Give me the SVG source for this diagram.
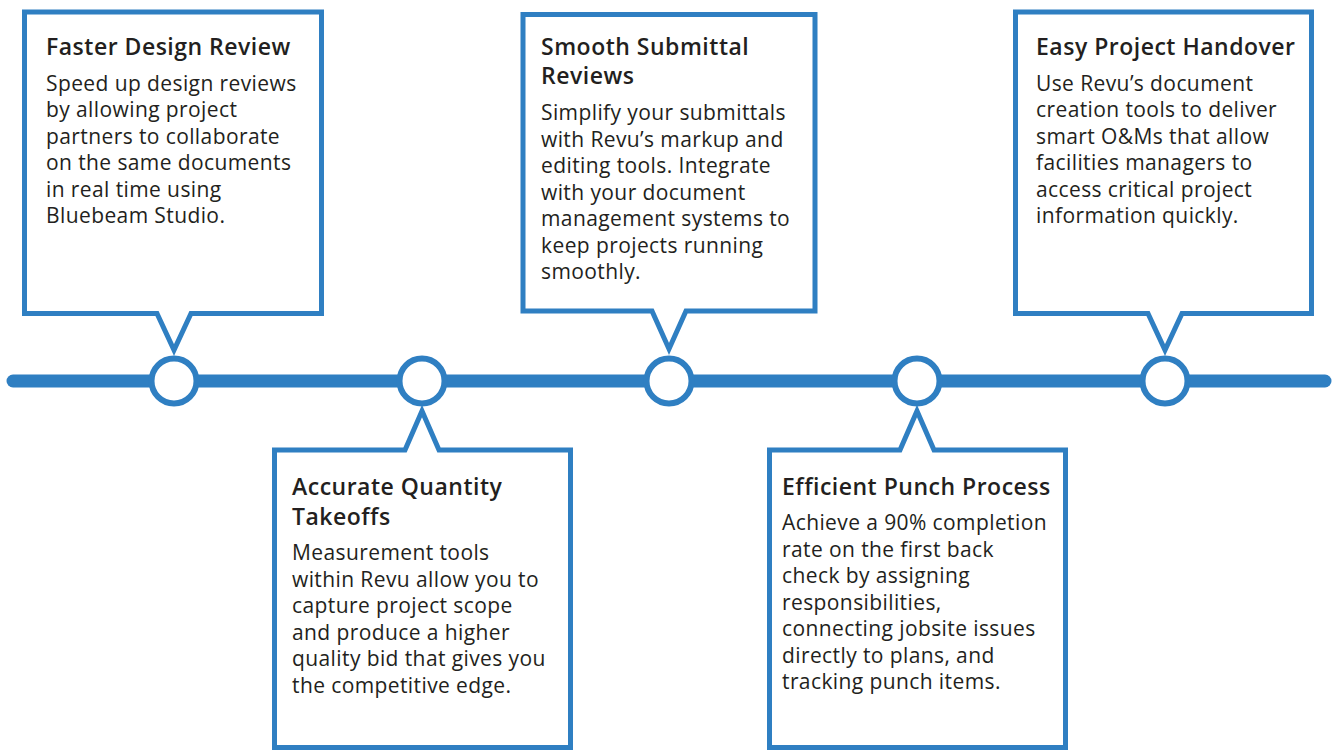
<svg xmlns="http://www.w3.org/2000/svg" width="1332" height="751" viewBox="0 0 1332 751">
<style>
.box{fill:#fff;stroke:#2f7fc2;stroke-width:5;stroke-miterlimit:10}
.node circle{fill:#fff;stroke:#2f7fc2;stroke-width:6}
.t{font-family:"Open Sans","Liberation Sans",sans-serif;font-size:23px;font-weight:600;letter-spacing:0.5px;fill:#231f20}
.b{font-family:"Open Sans","Liberation Sans",sans-serif;font-size:21px;letter-spacing:0.4px;fill:#231f20}
</style>
<rect width="1332" height="751" fill="#fff"/>
<g id="connectors">
<line x1="13" y1="381" x2="1325" y2="381" stroke="#2f7fc2" stroke-width="13" stroke-linecap="round"/>
</g>
<g id="n1" class="node">
<path class="box" d="M24.5,12 H321.5 V313.5 H191 L174,350 L157,313.5 H24.5 Z"/>
<circle cx="174" cy="381" r="22.5"/>
<text class="t" x="46" y="55">Faster Design Review</text>
<text class="b"><tspan x="46" y="90.5">Speed up design reviews</tspan><tspan x="46" y="117">by allowing project</tspan><tspan x="46" y="143.5">partners to collaborate</tspan><tspan x="46" y="170">on the same documents</tspan><tspan x="46" y="196.5">in real time using</tspan><tspan x="46" y="223">Bluebeam Studio.</tspan></text>
</g>
<g id="n2" class="node">
<path class="box" d="M274.5,450 H405 L422,411 L439,450 H570.5 V747.5 H274.5 Z"/>
<circle cx="422" cy="381" r="22.5"/>
<text class="t"><tspan x="292" y="495">Accurate Quantity</tspan><tspan x="292" y="525">Takeoffs</tspan></text>
<text class="b"><tspan x="292" y="560">Measurement tools</tspan><tspan x="292" y="586.5">within Revu allow you to</tspan><tspan x="292" y="613">capture project scope</tspan><tspan x="292" y="639.5">and produce a higher</tspan><tspan x="292" y="666">quality bid that gives you</tspan><tspan x="292" y="692.5">the competitive edge.</tspan></text>
</g>
<g id="n3" class="node">
<path class="box" d="M523,14.5 H815 V311 H686 L669,349 L652,311 H523 Z"/>
<circle cx="669" cy="381" r="22.5"/>
<text class="t"><tspan x="541" y="55">Smooth Submittal</tspan><tspan x="541" y="84">Reviews</tspan></text>
<text class="b"><tspan x="541" y="120">Simplify your submittals</tspan><tspan x="541" y="146.5">with Revu’s markup and</tspan><tspan x="541" y="173">editing tools. Integrate</tspan><tspan x="541" y="199.5">with your document</tspan><tspan x="541" y="226">management systems to</tspan><tspan x="541" y="252.5">keep projects running</tspan><tspan x="541" y="279">smoothly.</tspan></text>
</g>
<g id="n4" class="node">
<path class="box" d="M769.5,450 H900 L917,411 L934,450 H1065.5 V747.5 H769.5 Z"/>
<circle cx="917" cy="381" r="22.5"/>
<text class="t" x="782" y="495">Efficient Punch Process</text>
<text class="b"><tspan x="782" y="530">Achieve a 90% completion</tspan><tspan x="782" y="556.5">rate on the first back</tspan><tspan x="782" y="583">check by assigning</tspan><tspan x="782" y="609.5">responsibilities,</tspan><tspan x="782" y="636">connecting jobsite issues</tspan><tspan x="782" y="662.5">directly to plans, and</tspan><tspan x="782" y="689">tracking punch items.</tspan></text>
</g>
<g id="n5" class="node">
<path class="box" d="M1015.5,12 H1311.5 V313.5 H1182 L1165,350 L1148,313.5 H1015.5 Z"/>
<circle cx="1165" cy="381" r="22.5"/>
<text class="t" x="1036" y="55">Easy Project Handover</text>
<text class="b"><tspan x="1036" y="90.5">Use Revu’s document</tspan><tspan x="1036" y="117">creation tools to deliver</tspan><tspan x="1036" y="143.5">smart O&amp;Ms that allow</tspan><tspan x="1036" y="170">facilities managers to</tspan><tspan x="1036" y="196.5">access critical project</tspan><tspan x="1036" y="223">information quickly.</tspan></text>
</g>
</svg>
